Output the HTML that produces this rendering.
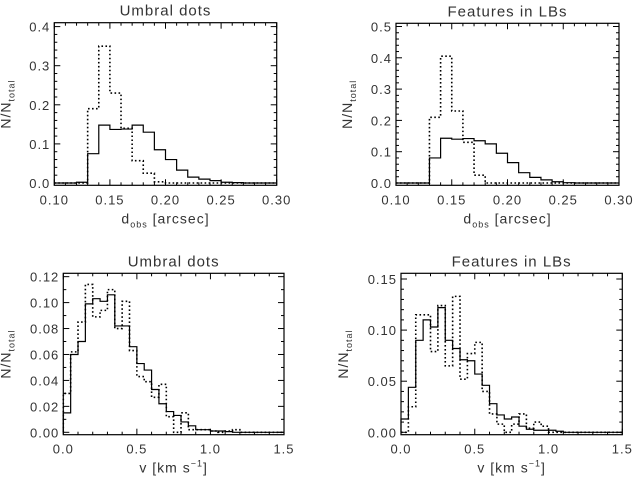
<!DOCTYPE html>
<html><head><meta charset="utf-8"><style>
html,body{margin:0;padding:0;background:#fff;}
svg{display:block;font-family:"Liberation Sans","DejaVu Sans",sans-serif;}
text{letter-spacing:1px;}
</style></head><body>
<svg id="c" width="635" height="480" viewBox="0 0 635 480"></svg>
<script>
// Panel 1 data (d_obs, bins of 0.01 starting 0.10)
const p1Start=0.10, p1Width=0.01;
const p1Solid=[0,0,0.002,0.075,0.148,0.137,0.138,0.148,0.13,0.085,0.06,0.033,0.015,0.01,0.006,0.002,0.001,0,0,0];
const p1Dotted=[0,0,0,0.19,0.35,0.23,0.14,0.057,0.025,0.003,0,0,0,0,0,0,0,0,0,0];
const p1XTicks=["0.10","0.15","0.20","0.25","0.30"];
const p1YTicks=["0.0","0.1","0.2","0.3","0.4"];
// Panel 2 data
const p2Solid=[0,0,0,0.08,0.143,0.14,0.142,0.135,0.125,0.095,0.065,0.033,0.018,0.01,0.004,0.001,0,0,0,0];
const p2Dotted=[0,0,0,0.21,0.405,0.23,0.13,0.025,0,0,0,0,0,0,0,0,0,0,0,0];
const p2YTicks=["0.0","0.1","0.2","0.3","0.4","0.5"];
// Panel 3 data (v, bins of 0.05 starting 0)
const vStart=0, vWidth=0.05;
const p3Solid=[0.015,0.06,0.07,0.099,0.103,0.101,0.106,0.082,0.082,0.066,0.053,0.048,0.033,0.022,0.016,0.013,0.008,0.005,0.002,0.002,0.001,0.001,0.0005,0,0,0,0,0,0,0];
const p3Dotted=[0.03,0.062,0.085,0.114,0.089,0.094,0.11,0.08,0.101,0.063,0.043,0.039,0.027,0.037,0.012,0,0.015,0.002,0.002,0.002,0.001,0,0.001,0.002,0,0,0,0,0,0];
const vXTicks=["0.0","0.5","1.0","1.5"];
const p3YTicks=["0.00","0.02","0.04","0.06","0.08","0.10","0.12"];
// Panel 4 data
const p4Solid=[0.013,0.044,0.09,0.11,0.103,0.122,0.09,0.082,0.071,0.07,0.057,0.046,0.028,0.017,0.013,0.015,0.006,0.003,0.002,0.002,0.002,0.001,0,0,0,0,0,0,0,0];
const p4Dotted=[0,0.025,0.115,0.115,0.079,0.124,0.065,0.133,0.052,0.077,0.088,0.04,0.018,0.008,0,0.008,0.018,0.004,0.01,0.006,0,0,0,0,0,0,0,0,0,0];
const p4YTicks=["0.00","0.05","0.10","0.15"];

const NS="http://www.w3.org/2000/svg";
const svg=document.getElementById('c');
function el(t,a,p){const e=document.createElementNS(NS,t);for(const k in a)e.setAttribute(k,a[k]);(p||svg).appendChild(e);return e;}

function panel(o){
  const g=el('g',{});
  
  
  const X=v=>o.L+(v-o.xmin)/(o.xmax-o.xmin)*(o.R-o.L);
  const Y=v=>o.y0-v*o.ypx;
  const t=el('text',{x:(o.L+o.R)/2,y:o.T-7,'text-anchor':'middle','font-size':15,fill:'#333'},g);
  t.textContent=o.title;
  
  
  function hist(vals,dash,nm){
    let d='';
    vals.forEach((v,i)=>{const x0=X(o.start+i*o.width),x1=X(o.start+(i+1)*o.width),y=Y(v);
      d+=(i===0?'M'+x0+','+Y(0)+'L':'L')+x0+','+y+'L'+x1+','+y;});
    const p=el('path',{d:d,fill:'none',stroke:'#000','stroke-width':dash?1.6:1.2,'stroke-dasharray':dash?'1.6,2.4':'none'},g);
    
    
  }
  hist(o.solid,false,'solid-histogram');
  hist(o.dotted,true,'dotted-histogram');
  const f=el('rect',{x:o.L,y:o.T,width:o.R-o.L,height:o.B-o.T,fill:'none',stroke:'#000','stroke-width':1.2},g);
  
  
  const nx=o.xt.length;
  for(let i=0;i<nx;i++){
    const v=parseFloat(o.xt[i]),x=X(v);
    el('line',{x1:x,x2:x,y1:o.B,y2:o.B-6,stroke:'#000'},g);
    el('line',{x1:x,x2:x,y1:o.T,y2:o.T+6,stroke:'#000'},g);
    const lt=el('text',{x:x,y:o.B+19,'text-anchor':'middle','font-size':13,fill:'#333'},g);
    lt.textContent=o.xt[i];
    
    
    if(i<nx-1){const step=(parseFloat(o.xt[i+1])-v)/o.xminor;
      for(let k=1;k<o.xminor;k++){const xm=X(v+k*step);
        el('line',{x1:xm,x2:xm,y1:o.B,y2:o.B-3,stroke:'#000'},g);
        el('line',{x1:xm,x2:xm,y1:o.T,y2:o.T+3,stroke:'#000'},g);}}
  }
  const ny=o.yt.length;
  for(let i=0;i<ny;i++){
    const v=parseFloat(o.yt[i]),y=Y(v);
    el('line',{x1:o.L,x2:o.L+6,y1:y,y2:y,stroke:'#000'},g);
    el('line',{x1:o.R,x2:o.R-6,y1:y,y2:y,stroke:'#000'},g);
    const lt=el('text',{x:o.L-4,y:y+5,'text-anchor':'end','font-size':13,fill:'#333'},g);
    lt.textContent=o.yt[i];
    
    
    const step=ny>1?(parseFloat(o.yt[1])-parseFloat(o.yt[0]))/o.yminor:0;
    for(let k=1;k<o.yminor;k++){const ym=Y(v+k*step);if(ym<o.T)break;
      el('line',{x1:o.L,x2:o.L+3,y1:ym,y2:ym,stroke:'#000'},g);
      el('line',{x1:o.R,x2:o.R-3,y1:ym,y2:ym,stroke:'#000'},g);}
  }
  const xl=el('text',{x:(o.L+o.R)/2,y:o.B+38,'text-anchor':'middle','font-size':14,fill:'#333'},g);
  xl.innerHTML=o.xlabel;
  
  
  const yl=el('text',{x:0,y:0,'text-anchor':'middle','font-size':14,fill:'#333',transform:'translate('+(o.L-o.ylOff)+','+((o.T+o.B)/2)+') rotate(-90)'},g);
  yl.innerHTML='N/N<tspan font-size="9" dy="4">total</tspan>';
  
  
}
const dLab='d<tspan font-size="9" dy="4">obs</tspan><tspan dy="-4"> [arcsec]</tspan>';
const vLab='v [km s<tspan font-size="9" dy="-6">−1</tspan><tspan dy="6">]</tspan>';
panel({name:'panel-umbral-dots-size',title:'Umbral dots',L:54.3,R:276.7,T:22.7,B:185.3,xmin:0.10,xmax:0.30,y0:183,ypx:391,start:p1Start,width:p1Width,solid:p1Solid,dotted:p1Dotted,xt:p1XTicks,yt:p1YTicks,xminor:5,yminor:5,xlabel:dLab,ylOff:44});
panel({name:'panel-lb-features-size',title:'Features in LBs',L:396,R:619,T:23.3,B:185.3,xmin:0.10,xmax:0.30,y0:183,ypx:313,start:p1Start,width:p1Width,solid:p2Solid,dotted:p2Dotted,xt:p1XTicks,yt:p2YTicks,xminor:5,yminor:5,xlabel:dLab,ylOff:44});
panel({name:'panel-umbral-dots-velocity',title:'Umbral dots',L:63.3,R:284,T:273.3,B:434.7,xmin:0,xmax:1.5,y0:432.3,ypx:1297,start:vStart,width:vWidth,solid:p3Solid,dotted:p3Dotted,xt:vXTicks,yt:p3YTicks,xminor:5,yminor:2,xlabel:vLab,ylOff:53});
panel({name:'panel-lb-features-velocity',title:'Features in LBs',L:401,R:622.3,T:273.3,B:434.7,xmin:0,xmax:1.5,y0:432.3,ypx:1022,start:vStart,width:vWidth,solid:p4Solid,dotted:p4Dotted,xt:vXTicks,yt:p4YTicks,xminor:5,yminor:5,xlabel:vLab,ylOff:53});
</script>
</body></html>
